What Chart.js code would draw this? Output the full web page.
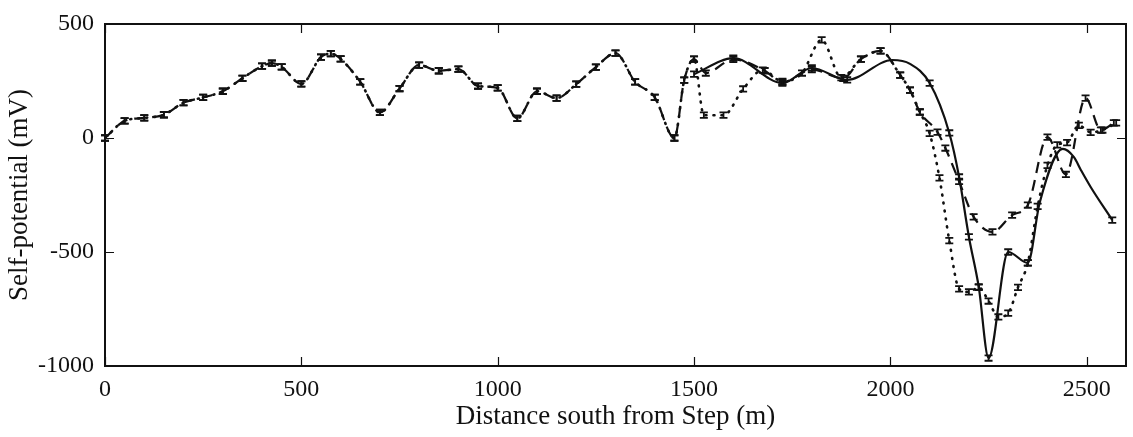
<!DOCTYPE html>
<html lang="en">
<head>
    <meta charset="UTF-8">
    <title>Self-potential profile</title>
    <script src="https://cdn.jsdelivr.net/npm/chart.js"></script>
    <style>
        html, body { margin: 0; padding: 0; background: #fff; }
        #wrap { width: 1133px; height: 437px; }
    </style>
</head>
<body>
    <div id="wrap"><canvas id="spChart"></canvas></div>

    <script>
        // profile shared by both measured series (they overlap up to 1500 m)
        const distShared = [0,50,100,150,200,250,300,350,400,425,450,500,550,575,600,650,700,750,800,850,900,950,1000,1050,1100,1150,1200,1250,1300,1350,1400,1450,1475,1500];
        const spShared   = [0,75,88,102,155,178,205,262,315,328,312,237,355,370,347,246,112,217,320,295,302,228,220,86,205,175,236,311,372,246,178,0,254,346];

        // dotted series beyond 1500 m
        const distDotted = [1525,1575,1625,1675,1725,1775,1825,1875,1925,1975,2025,2050,2075,2100,2125,2150,2175,2200,2225,2250,2275,2300,2325,2350,2375,2400,2425,2450,2480,2510,2540,2575];
        const spDotted   = [100,100,215,298,248,285,430,265,346,382,276,210,114,20,-175,-450,-662,-675,-655,-715,-785,-768,-655,-548,-300,-120,-30,-20,55,25,35,66];

        // dashed series beyond 1500 m
        const distDashed = [1530,1600,1680,1725,1800,1880,1925,1975,2025,2050,2075,2120,2140,2175,2212,2260,2310,2350,2400,2447,2497,2536,2569];
        const spDashed   = [285,345,295,245,300,262,346,382,276,210,114,26,-44,-190,-346,-412,-338,-294,4,-160,175,35,66];

        // solid (model) curve
        const distSolid = [1500,1600,1725,1800,1890,2005,2050,2100,2150,2175,2200,2225,2250,2300,2350,2380,2439,2467,2485,2510,2565];
        const spSolid   = [280,350,241,307,255,342,325,241,22,-171,-434,-653,-965,-500,-548,-285,-48,-83,-140,-215,-360];

        // points of the solid curve that carry a marker
        const solidMarked = [1500,1600,1725,1800,1890,2100,2150,2175,2200,2225,2250,2300,2350,2565];

        const xTicks = [0, 500, 1000, 1500, 2000, 2500];
        const yTicks = [-1000, -500, 0, 500];

        const ERR = 12; // half-height of the little error bars (mV)
        const serif = "'Liberation Serif', 'DejaVu Serif', serif";

        function pts(xs, ys) {
            return xs.map((x, i) => ({ x: x, y: ys[i] }));
        }

        // frame, inward tick marks and error bars
        const decorations = {
            id: 'decorations',
            afterDatasetsDraw(chart) {
                const ctx = chart.ctx;
                const a = chart.chartArea;
                const xs = chart.scales.x, ys = chart.scales.y;
                ctx.save();
                ctx.strokeStyle = '#111';
                ctx.lineWidth = 2;
                ctx.strokeRect(a.left, a.top, a.right - a.left, a.bottom - a.top);
                ctx.lineWidth = 1.2;
                ctx.beginPath();
                xTicks.forEach(v => {
                    const px = Math.round(xs.getPixelForValue(v)) + 0.5;
                    ctx.moveTo(px, a.bottom); ctx.lineTo(px, a.bottom - 9);
                    ctx.moveTo(px, a.top); ctx.lineTo(px, a.top + 9);
                });
                yTicks.forEach(v => {
                    const py = Math.round(ys.getPixelForValue(v)) + 0.5;
                    ctx.moveTo(a.left, py); ctx.lineTo(a.left + 9, py);
                    ctx.moveTo(a.right, py); ctx.lineTo(a.right - 9, py);
                });
                ctx.stroke();

                ctx.lineWidth = 1.8;
                chart.data.datasets.forEach(ds => {
                    ctx.beginPath();
                    ds.data.forEach(p => {
                        if (ds.marked && ds.marked.indexOf(p.x) < 0) return;
                        const px = xs.getPixelForValue(p.x);
                        const y1 = ys.getPixelForValue(p.y + ERR);
                        const y2 = ys.getPixelForValue(p.y - ERR);
                        ctx.moveTo(px, y1); ctx.lineTo(px, y2);
                        ctx.moveTo(px - 4, y1); ctx.lineTo(px + 4, y1);
                        ctx.moveTo(px - 4, y2); ctx.lineTo(px + 4, y2);
                    });
                    ctx.stroke();
                });
                ctx.restore();
            }
        };

        const common = {
            borderColor: '#111',
            pointRadius: 0,
            fill: false,
            cubicInterpolationMode: 'monotone'
        };

        const ctx = document.getElementById('spChart').getContext('2d');
        const spChart = new Chart(ctx, {
            type: 'line',
            data: {
                datasets: [
                    Object.assign({ label: 'dotted', data: pts(distShared.concat(distDotted), spShared.concat(spDotted)),
                        borderWidth: 2.6, borderDash: [1, 7], borderCapStyle: 'round' }, common),
                    Object.assign({ label: 'dashed', data: pts(distShared.concat(distDashed), spShared.concat(spDashed)),
                        borderWidth: 2.2, borderDash: [11, 7] }, common),
                    Object.assign({ label: 'solid', data: pts(distSolid, spSolid), marked: solidMarked,
                        borderWidth: 2.2 }, common)
                ]
            },
            options: {
                responsive: true,
                maintainAspectRatio: false,
                animation: false,
                layout: { padding: { top: 24, right: 7, left: 0, bottom: 0 } },
                plugins: { legend: { display: false }, tooltip: { enabled: false } },
                scales: {
                    x: {
                        type: 'linear',
                        min: 0,
                        max: 2600,
                        afterBuildTicks: s => { s.ticks = xTicks.map(v => ({ value: v })); },
                        afterFit: s => { s.height = 71; },
                        grid: { display: false },
                        border: { display: false },
                        ticks: { color: '#111', font: { family: serif, size: 24 }, padding: 1, maxRotation: 0,
                                 callback: v => String(v) },
                        title: { display: true, text: 'Distance south from Step (m)', color: '#111',
                                 font: { family: serif, size: 27 }, padding: { top: 0 } }
                    },
                    y: {
                        min: -1000,
                        max: 500,
                        afterBuildTicks: s => { s.ticks = yTicks.map(v => ({ value: v })); },
                        afterFit: s => { s.width = 105; },
                        grid: { display: false },
                        border: { display: false },
                        ticks: { color: '#111', font: { family: serif, size: 24 }, padding: 3,
                                 callback: v => String(v) },
                        title: { display: true, text: 'Self-potential (mV)', color: '#111',
                                 font: { family: serif, size: 27 }, padding: { bottom: 0 } }
                    }
                }
            },
            plugins: [decorations]
        });
    </script>
</body>
</html>
